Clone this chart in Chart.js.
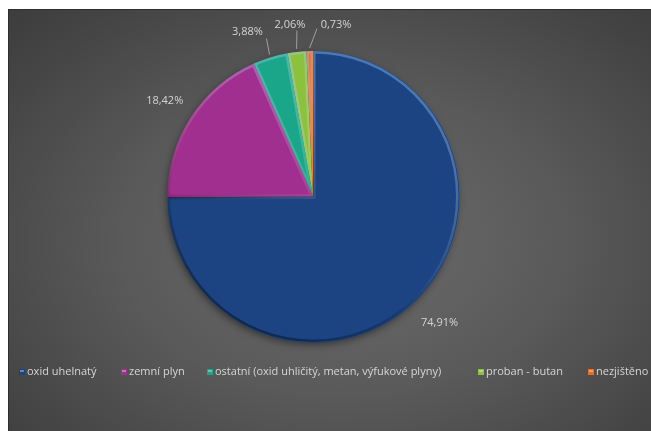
<!DOCTYPE html>
<html>
<head>
<meta charset="utf-8">
<script src="https://cdn.jsdelivr.net/npm/chart.js@4/dist/chart.umd.min.js"></script>
<style>
  html, body { margin: 0; padding: 0; background: #fff; overflow: hidden; }
  #panel {
    position: absolute; left: 8px; top: 9px; width: 643px; height: 422px;
    background: radial-gradient(ellipse 75% 80% at 52% 55%, #6c6c6c 0%, #5a5a5a 45%, #434343 85%, #3c3c3c 100%);
    border-top: 1px solid #2e2e2e; border-left: 1px solid #2e2e2e;
  }
  #chart { display: block; }
</style>
</head>
<body>
<div id="panel"><canvas id="chart" width="642" height="421"></canvas></div>
<script>
// zdroje otrav (podíl v %)
const categories = ['oxid uhelnatý', 'zemní plyn', 'ostatní (oxid uhličitý, metan, výfukové plyny)', 'proban - butan', 'nezjištěno'];
const shares = [74.91, 18.42, 3.88, 2.06, 0.73];
const sliceColors = ['#1c4482', '#a12f8f', '#1aa688', '#8cc13d', '#f06a1d'];

// label placement: distance beyond the rim, sideways nudge, leader line end offsets
const labelDist = [33, 31, 27, 27.5, 26.5];
const labelNudge = [0, 0, -15, -4, 27];
const leaderDx = [null, null, 19, 7, -19];
const leaderDy = [null, null, 7, 6, 4];

// legend marker x positions (canvas px)
const legendX = [10, 112, 198, 469, 579];

const fmt = v => v.toFixed(2).replace('.', ',') + '%';
const FONT = '11px "Open Sans", "Noto Sans", sans-serif';

function shade(hex, f) {
  const n = parseInt(hex.slice(1), 16);
  let r = n >> 16, g = (n >> 8) & 255, b = n & 255;
  const m = c => Math.max(0, Math.min(255, Math.round(f > 0 ? c + (255 - c) * f : c * (1 + f))));
  return `rgb(${m(r)},${m(g)},${m(b)})`;
}

function slicePath(ctx, a) {
  ctx.beginPath();
  ctx.moveTo(a.x, a.y);
  ctx.arc(a.x, a.y, a.outerRadius, a.startAngle, a.endAngle);
  ctx.closePath();
}

// soft drop shadow under the whole pie
const shadowPlugin = {
  id: 'pieShadow',
  beforeDatasetsDraw(chart) {
    const a = chart.getDatasetMeta(0).data[0];
    if (!a) return;
    const ctx = chart.ctx;
    ctx.save();
    ctx.shadowColor = 'rgba(0,0,0,0.55)';
    ctx.shadowBlur = 8;
    ctx.shadowOffsetX = -1;
    ctx.shadowOffsetY = 3;
    ctx.fillStyle = '#222';
    ctx.beginPath();
    ctx.arc(a.x, a.y, a.outerRadius - 1, 0, Math.PI * 2);
    ctx.fill();
    ctx.restore();
  }
};

// bevel: light rim on the upper side, dark rim below, clipped inside each slice
const bevelPlugin = {
  id: 'bevel',
  afterDatasetsDraw(chart) {
    const ctx = chart.ctx;
    chart.getDatasetMeta(0).data.forEach(a => {
      const g = ctx.createLinearGradient(a.x + a.outerRadius * 0.5, a.y - a.outerRadius, a.x - a.outerRadius * 0.5, a.y + a.outerRadius);
      g.addColorStop(0, 'rgba(120,190,255,0.45)');
      g.addColorStop(0.45, 'rgba(255,255,255,0.12)');
      g.addColorStop(0.7, 'rgba(0,0,0,0.15)');
      g.addColorStop(1, 'rgba(0,0,0,0.45)');
      ctx.save();
      slicePath(ctx, a);
      ctx.clip();
      slicePath(ctx, a);
      ctx.lineWidth = 5;
      ctx.strokeStyle = g;
      ctx.stroke();
      ctx.restore();
    });
  }
};

const labelPlugin = {
  id: 'pctLabels',
  afterDatasetsDraw(chart) {
    const ctx = chart.ctx;
    const arcs = chart.getDatasetMeta(0).data;
    ctx.save();
    ctx.font = FONT;
    ctx.fillStyle = '#d4d4d4';
    ctx.strokeStyle = '#a0a0a0';
    ctx.lineWidth = 1;
    ctx.textAlign = 'center';
    ctx.textBaseline = 'middle';
    arcs.forEach((arc, i) => {
      const mid = (arc.startAngle + arc.endAngle) / 2;
      const r = arc.outerRadius;
      const dx = Math.cos(mid), dy = Math.sin(mid);
      const lx = arc.x + dx * (r + labelDist[i]) + labelNudge[i];
      const ly = arc.y + dy * (r + labelDist[i]);
      if (leaderDx[i] !== null) {
        ctx.beginPath();
        ctx.moveTo(arc.x + dx * (r + 3), arc.y + dy * (r + 3));
        ctx.lineTo(lx + leaderDx[i], ly + leaderDy[i]);
        ctx.stroke();
      }
      ctx.fillText(fmt(shares[i]), lx, ly);
    });
    ctx.restore();
  }
};

const legendPlugin = {
  id: 'rowLegend',
  afterDraw(chart) {
    const ctx = chart.ctx;
    ctx.save();
    ctx.font = FONT;
    ctx.textBaseline = 'middle';
    const y = 362;
    categories.forEach((c, i) => {
      const x = legendX[i];
      ctx.fillStyle = sliceColors[i];
      ctx.fillRect(x, y - 3, 6, 6);
      ctx.fillStyle = shade(sliceColors[i], 0.35);
      ctx.fillRect(x + 1, y - 2, 4, 2);
      ctx.fillStyle = '#d6d6d6';
      ctx.fillText(c, x + 8, y);
    });
    ctx.restore();
  }
};

new Chart(document.getElementById('chart'), {
  type: 'pie',
  data: {
    labels: categories,
    datasets: [{
      data: shares,
      backgroundColor: (c) => {
        const arc = c.element;
        const col = sliceColors[c.dataIndex];
        if (!arc || !arc.outerRadius) return col;
        const r = arc.outerRadius;
        const g = c.chart.ctx.createLinearGradient(arc.x + r * 0.5, arc.y - r, arc.x - r * 0.5, arc.y + r);
        g.addColorStop(0, shade(col, 0.05));
        g.addColorStop(0.5, col);
        g.addColorStop(1, shade(col, -0.2));
        return g;
      },
      borderWidth: 0,
      offset: [2, 0, 0, 0, 0]
    }]
  },
  options: {
    responsive: false,
    animation: false,
    layout: { padding: { top: 40, bottom: 88, left: 0, right: 34 } },
    plugins: { legend: { display: false }, tooltip: { enabled: false } }
  },
  plugins: [shadowPlugin, bevelPlugin, labelPlugin, legendPlugin]
});
</script>
</body>
</html>
